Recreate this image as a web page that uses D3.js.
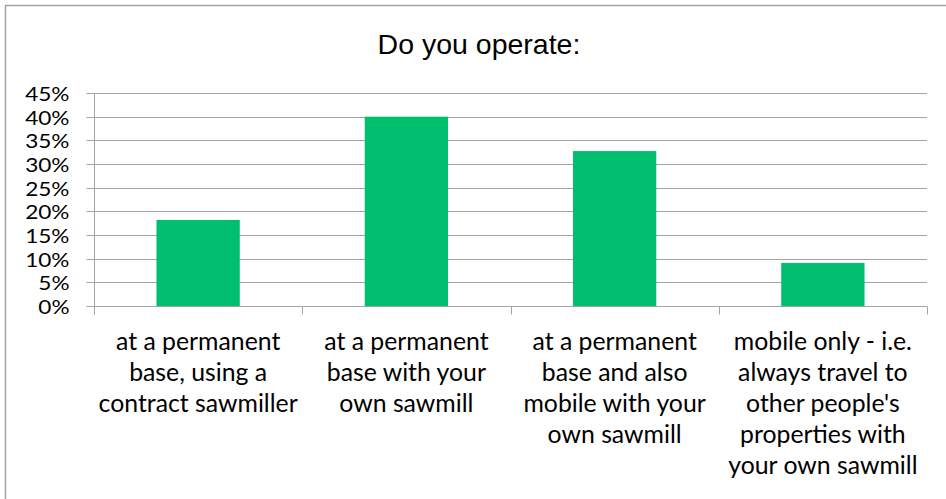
<!DOCTYPE html>
<html>
<head>
<meta charset="utf-8">
<script src="https://cdn.jsdelivr.net/npm/d3@7/dist/d3.min.js"></script>
<style>
  html, body { margin: 0; padding: 0; background: #fff; }
  svg { display: block; }
</style>
</head>
<body>
<svg id="chart" width="946" height="499"></svg>
<script>
// Survey question and answer shares
const title = "Do you operate:";
const categories = [
  "at a permanent base, using a contract sawmiller",
  "at a permanent base with your own sawmill",
  "at a permanent base and also mobile with your own sawmill",
  "mobile only - i.e. always travel to other people's properties with your own sawmill"
];
const categoryLines = [
  ["at a permanent", "base, using a", "contract sawmiller"],
  ["at a permanent", "base with your", "own sawmill"],
  ["at a permanent", "base and also", "mobile with your", "own sawmill"],
  ["mobile only - i.e.", "always travel to", "other people's", "properties with", "your own sawmill"]
];
const shares = [0.1818, 0.40, 0.3273, 0.0909];
const yTicks = [0, 0.05, 0.10, 0.15, 0.20, 0.25, 0.30, 0.35, 0.40, 0.45];

const svg = d3.select("#chart");
const W = 946, H = 499;
const plot = { left: 94, right: 927, top: 93, bottom: 306 };
const axisColor = "#a3a3a3";
const labelFont = "Lato, 'Open Sans', sans-serif";

// outer chart frame
svg.append("rect")
  .attr("x", 5.5).attr("y", 5.5)
  .attr("width", W).attr("height", H)
  .attr("fill", "#fff")
  .attr("stroke", axisColor).attr("stroke-width", 1.5);

// bar positions inside each category slot
const x = d3.scaleBand()
  .domain(categories)
  .range([plot.left, plot.right])
  .paddingInner(0.6)
  .paddingOuter(0.3);

// full category slots (tick marks and labels)
const xCat = d3.scaleBand()
  .domain(categories)
  .range([plot.left, plot.right])
  .padding(0);

const y = d3.scaleLinear()
  .domain([0, 0.45])
  .range([plot.bottom, plot.top]);

const crisp = v => Math.round(v) + 0.5;

// title
svg.append("text")
  .attr("x", 479).attr("y", 54)
  .attr("text-anchor", "middle")
  .attr("font-family", "'Liberation Sans', Arial, sans-serif")
  .attr("font-size", 28.5)
  .attr("fill", "#000")
  .text(title);

// horizontal gridlines
svg.append("g")
  .selectAll("line")
  .data(yTicks.filter(d => d > 0))
  .join("line")
  .attr("x1", plot.left).attr("x2", plot.right)
  .attr("y1", d => crisp(y(d))).attr("y2", d => crisp(y(d)))
  .attr("stroke", axisColor).attr("stroke-width", 1);

// bars
svg.append("g")
  .selectAll("rect")
  .data(shares)
  .join("rect")
  .attr("x", (d, i) => x(categories[i]))
  .attr("width", x.bandwidth())
  .attr("y", d => y(d))
  .attr("height", d => y(0) - y(d))
  .attr("fill", "#00bf6f");

// value axis
const tickStretch = 1.16;
const yAxis = svg.append("g")
  .attr("transform", `translate(${crisp(plot.left)},0)`)
  .call(d3.axisLeft(y)
    .tickValues(yTicks)
    .tickFormat(d3.format(".0%"))
    .tickSize(8)
    .tickPadding(17));
yAxis.select(".domain").remove();
yAxis.selectAll(".tick").attr("transform", d => `translate(0,${crisp(y(d))})`);
yAxis.selectAll(".tick line").attr("stroke", axisColor);
yAxis.selectAll(".tick text")
  .attr("font-family", labelFont)
  .attr("font-size", 19.5)
  .attr("fill", "#000")
  .attr("dy", "0.36em")
  .attr("x", -25 / tickStretch)
  .attr("transform", `scale(${tickStretch},1)`);
yAxis.append("line")
  .attr("x1", 0).attr("x2", 0)
  .attr("y1", crisp(y(0.45))).attr("y2", crisp(y(0)) + 8)
  .attr("stroke", axisColor);

// category axis
const xAxis = svg.append("g")
  .attr("transform", `translate(0,${crisp(plot.bottom)})`);
xAxis.append("line")
  .attr("x1", plot.left).attr("x2", plot.right)
  .attr("stroke", axisColor);
const boundaries = categories.map(c => xCat(c)).concat([plot.right]);
xAxis.selectAll("line.tick")
  .data(boundaries)
  .join("line")
  .attr("class", "tick")
  .attr("x1", d => crisp(d)).attr("x2", d => crisp(d))
  .attr("y1", 0).attr("y2", 8)
  .attr("stroke", axisColor);

const labels = xAxis.selectAll("text")
  .data(categories)
  .join("text")
  .attr("text-anchor", "middle")
  .attr("font-family", labelFont)
  .attr("font-size", 24.8)
  .attr("fill", "#000")
  .attr("transform", c => `translate(${xCat(c) + xCat.bandwidth() / 2},0)`);
labels.selectAll("tspan")
  .data((c, i) => categoryLines[i])
  .join("tspan")
  .attr("x", 0)
  .attr("y", (d, j) => 43 + j * 31)
  .text(d => d);
</script>
</body>
</html>
